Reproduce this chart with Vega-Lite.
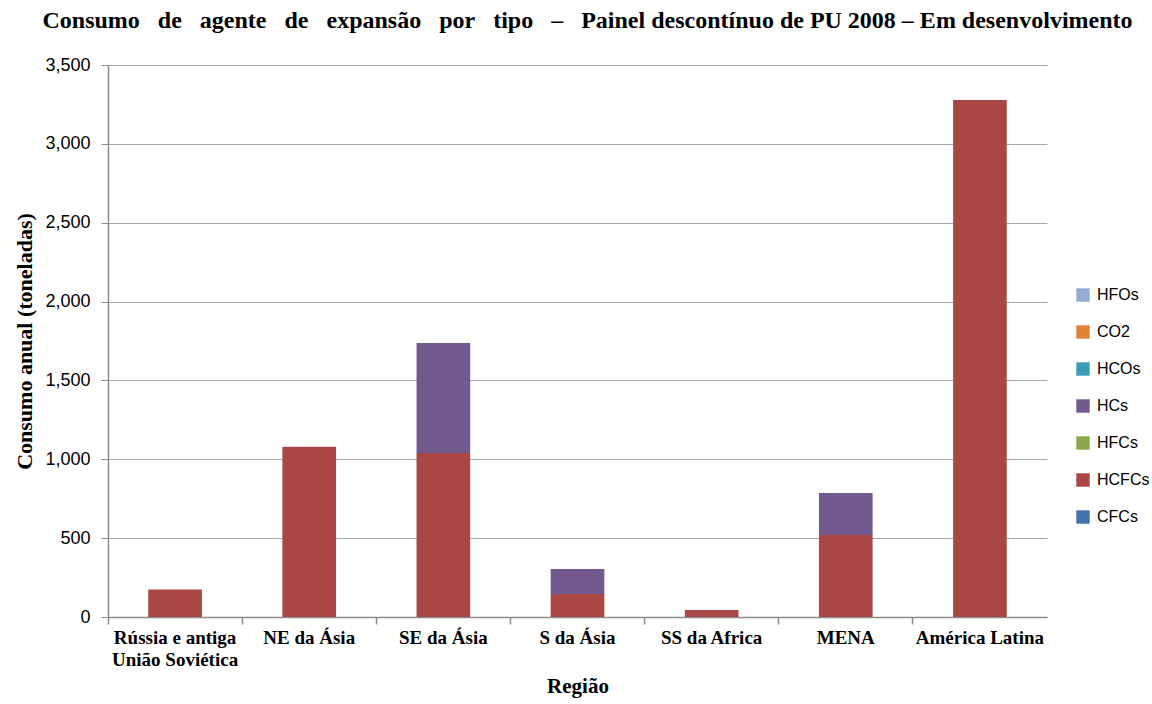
{
  "$schema": "https://vega.github.io/schema/vega-lite/v6.json",
  "width": 939,
  "height": 552,
  "autosize": {"type": "none"},
  "padding": {"left": 108, "top": 65, "right": 105, "bottom": 87},
  "background": "white",
  "config": {"view": {"stroke": null}},
  "title": {
    "text": "Consumo\u00a0\u00a0 de\u00a0\u00a0 agente\u00a0\u00a0 de\u00a0\u00a0 expansão\u00a0\u00a0 por\u00a0\u00a0 tipo\u00a0\u00a0 –\u00a0\u00a0 Painel descontínuo de PU 2008 – Em desenvolvimento",
    "font": "Liberation Serif",
    "fontSize": 24,
    "fontWeight": "bold",
    "color": "#000000",
    "anchor": "middle",
    "dx": 10,
    "offset": 23
  },
  "data": {
    "values": [
      {"regiao": "Rússia e antiga União Soviética", "tipo": "HCFCs", "ordem": 2, "valor": 175},
      {"regiao": "NE da Ásia", "tipo": "HCFCs", "ordem": 2, "valor": 1080},
      {"regiao": "SE da Ásia", "tipo": "HCFCs", "ordem": 2, "valor": 1040},
      {"regiao": "SE da Ásia", "tipo": "HCs", "ordem": 4, "valor": 697},
      {"regiao": "S da Ásia", "tipo": "HCFCs", "ordem": 2, "valor": 146},
      {"regiao": "S da Ásia", "tipo": "HCs", "ordem": 4, "valor": 158},
      {"regiao": "SS da Africa", "tipo": "HCFCs", "ordem": 2, "valor": 44},
      {"regiao": "MENA", "tipo": "HCFCs", "ordem": 2, "valor": 520},
      {"regiao": "MENA", "tipo": "HCs", "ordem": 4, "valor": 266},
      {"regiao": "América Latina", "tipo": "HCFCs", "ordem": 2, "valor": 3278}
    ]
  },
  "layer": [
    {
      "mark": {"type": "bar", "width": {"band": 0.4}},
      "encoding": {
        "x": {
          "field": "regiao",
          "type": "nominal",
          "sort": null,
          "scale": {"paddingInner": 0, "paddingOuter": 0},
          "axis": {
            "title": "Região",
            "titleFont": "Liberation Serif",
            "titleFontSize": 21,
            "titleFontWeight": "bold",
            "titleColor": "#000000",
            "titlePadding": 6,
            "labelFont": "Liberation Serif",
            "labelFontSize": 19,
            "labelFontWeight": "bold",
            "labelColor": "#000000",
            "labelAngle": 0,
            "labelPadding": 11,
            "labelLineHeight": 22,
            "labelExpr": "datum.value == 'Rússia e antiga União Soviética' ? ['Rússia e antiga', 'União Soviética'] : datum.value",
            "ticks": false,
            "domainColor": "#8C8C8C",
            "domainWidth": 1.5
          }
        },
        "y": {
          "field": "valor",
          "type": "quantitative",
          "stack": "zero",
          "scale": {"domain": [0, 3500]},
          "axis": {
            "title": "Consumo anual (toneladas)",
            "titleFont": "Liberation Serif",
            "titleFontSize": 22,
            "titleFontWeight": "bold",
            "titleColor": "#000000",
            "titlePadding": 8,
            "values": [0, 500, 1000, 1500, 2000, 2500, 3000, 3500],
            "format": ",d",
            "labelFont": "Liberation Sans",
            "labelFontSize": 18,
            "labelColor": "#000000",
            "labelPadding": 11,
            "tickSize": 7,
            "tickColor": "#8C8C8C",
            "domainColor": "#8C8C8C",
            "domainWidth": 1.5,
            "gridColor": "#A6A6A6",
            "gridWidth": 1
          }
        },
        "color": {
          "field": "tipo",
          "type": "nominal",
          "scale": {
            "domain": ["HFOs", "CO2", "HCOs", "HCs", "HFCs", "HCFCs", "CFCs"],
            "range": ["#95ABD3", "#E0813C", "#3C9DB4", "#725A8F", "#8BA74B", "#A84744", "#4473AC"]
          },
          "legend": {
            "title": null,
            "orient": "none",
            "legendX": 967,
            "legendY": 222,
            "symbolType": "square",
            "symbolSize": 180,
            "symbolStrokeWidth": 0,
            "labelFont": "Liberation Sans",
            "labelFontSize": 16,
            "labelColor": "#000000",
            "labelOffset": 6,
            "rowPadding": 21
          }
        },
        "order": {"field": "ordem", "type": "quantitative", "sort": "ascending"}
      }
    },
    {
      "mark": {"type": "bar", "opacity": 0},
      "encoding": {
        "x": {
          "field": "regiao",
          "type": "nominal",
          "sort": null,
          "axis": {
            "orient": "bottom",
            "title": null,
            "labels": false,
            "bandPosition": 0,
            "ticks": true,
            "tickSize": 7,
            "tickColor": "#8C8C8C",
            "tickWidth": 1.5,
            "domain": false,
            "grid": false
          }
        }
      }
    }
  ],
  "resolve": {"axis": {"x": "independent"}}
}
